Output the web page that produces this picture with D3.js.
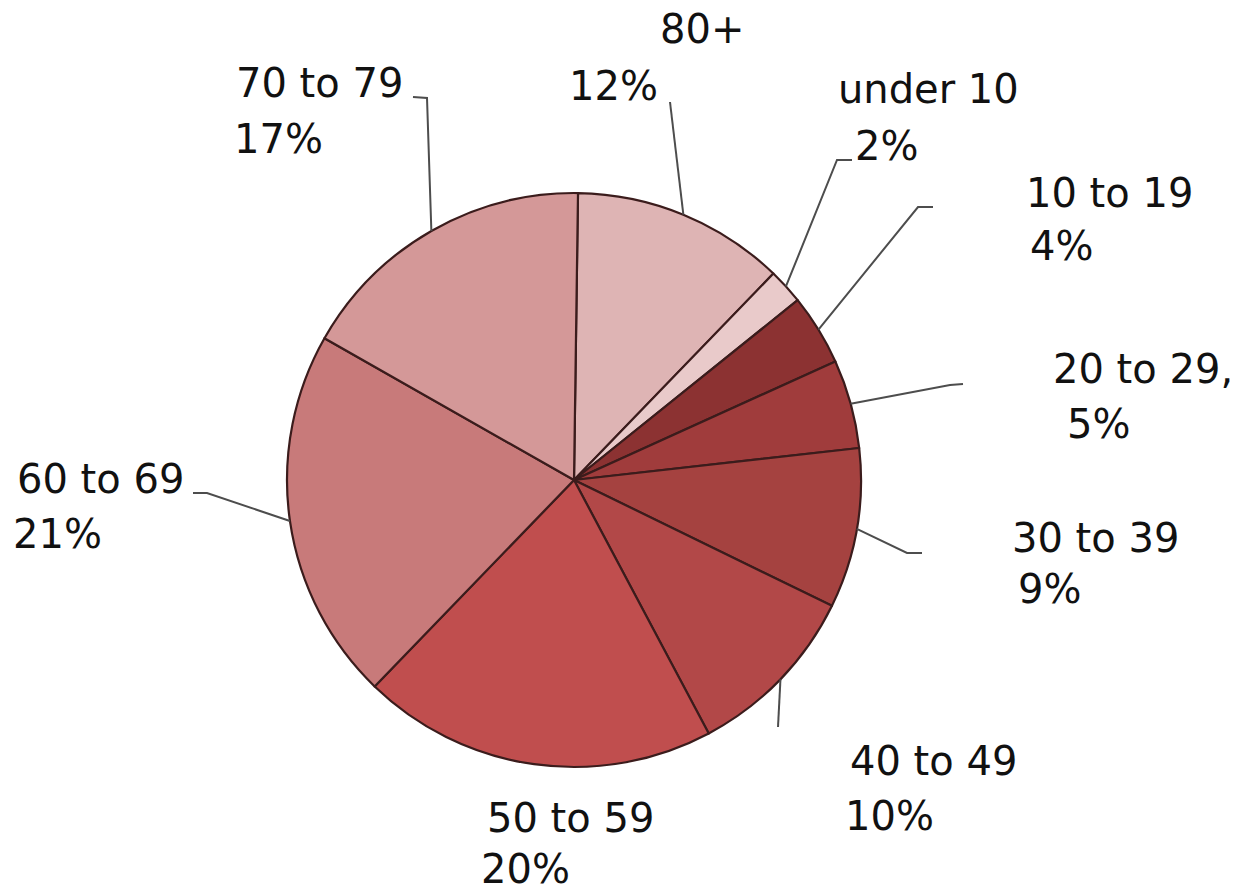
<!DOCTYPE html>
<html>
<head>
<meta charset="utf-8">
<script src="https://cdn.jsdelivr.net/npm/d3@7"></script>
<style>
  html, body { margin: 0; padding: 0; background: #ffffff; }
  svg { display: block; }
  text { font-family: "DejaVu Sans", Verdana, sans-serif; font-size: 40px; fill: #111111; }
</style>
</head>
<body>
<svg id="chart" width="1251" height="894"></svg>
<script>
// Age groups, clockwise from 12 o'clock
const categories = ["80+", "under 10", "10 to 19", "20 to 29,", "30 to 39", "40 to 49", "50 to 59", "60 to 69", "70 to 79"];
const shares = [12, 2, 4, 5, 9, 10, 20, 21, 17];
const shareLabels = ["12%", "2%", "4%", "5%", "9%", "10%", "20%", "21%", "17%"];
const sliceColors = ["#deb4b4", "#e9caca", "#8c3232", "#a03c3c", "#a54240", "#b24848", "#c04e4e", "#c87a7a", "#d49898"];

// Label placement: first-line anchor, second-line anchor, and leader-line bend points
const labelLayout = [
  { line1: [660, 43],  line2: [569, 100], leader: [[670, 102]] },
  { line1: [838, 103], line2: [855, 160], leader: [[837, 160], [852, 160]] },
  { line1: [1026, 207], line2: [1030, 260], leader: [[918, 207], [933, 207]] },
  { line1: [1053, 383], line2: [1067, 438], leader: [[950, 385], [963, 384]] },
  { line1: [1012, 552], line2: [1018, 603], leader: [[907, 553], [922, 553]] },
  { line1: [850, 775], line2: [845, 830], leader: [[778, 727]] },
  { line1: [487, 832], line2: [481, 883], leader: [] },
  { line1: [17, 493],  line2: [13, 548],  leader: [[207, 493], [193, 493]] },
  { line1: [236, 97],  line2: [234, 153], leader: [[427, 98], [413, 97]] }
];

const cx = 574, cy = 480, radius = 287;
const startOffset = 0.8 * Math.PI / 180;

const svg = d3.select("#chart");
const g = svg.append("g").attr("transform", `translate(${cx},${cy})`);

const pie = d3.pie()
  .value(d => d.value)
  .sort(null)
  .startAngle(startOffset)
  .endAngle(startOffset + 2 * Math.PI);

const data = categories.map((c, i) => ({ name: c, value: shares[i], label: shareLabels[i], color: sliceColors[i], layout: labelLayout[i] }));
const arcs = pie(data);

const arc = d3.arc().innerRadius(0).outerRadius(radius);

g.selectAll("path.slice")
  .data(arcs)
  .enter()
  .append("path")
  .attr("class", "slice")
  .attr("d", arc)
  .attr("fill", d => d.data.color)
  .attr("stroke", "#3b1c1c")
  .attr("stroke-width", 2.2)
  .attr("stroke-linejoin", "round");

// Leader lines from the rim of each slice to its label
const line = d3.line();
arcs.forEach(a => {
  const pts = a.data.layout.leader;
  if (!pts.length) return;
  const mid = (a.startAngle + a.endAngle) / 2;
  const rim = [cx + radius * Math.sin(mid), cy - radius * Math.cos(mid)];
  svg.append("path")
    .attr("d", line([rim, ...pts]))
    .attr("fill", "none")
    .attr("stroke", "#4d4d4d")
    .attr("stroke-width", 2);
});

// Two-line labels: category name and share
const labels = svg.selectAll("g.label")
  .data(arcs)
  .enter()
  .append("g")
  .attr("class", "label");

labels.append("text")
  .attr("x", d => d.data.layout.line1[0])
  .attr("y", d => d.data.layout.line1[1])
  .text(d => d.data.name);

labels.append("text")
  .attr("x", d => d.data.layout.line2[0])
  .attr("y", d => d.data.layout.line2[1])
  .text(d => d.data.label);
</script>
</body>
</html>
